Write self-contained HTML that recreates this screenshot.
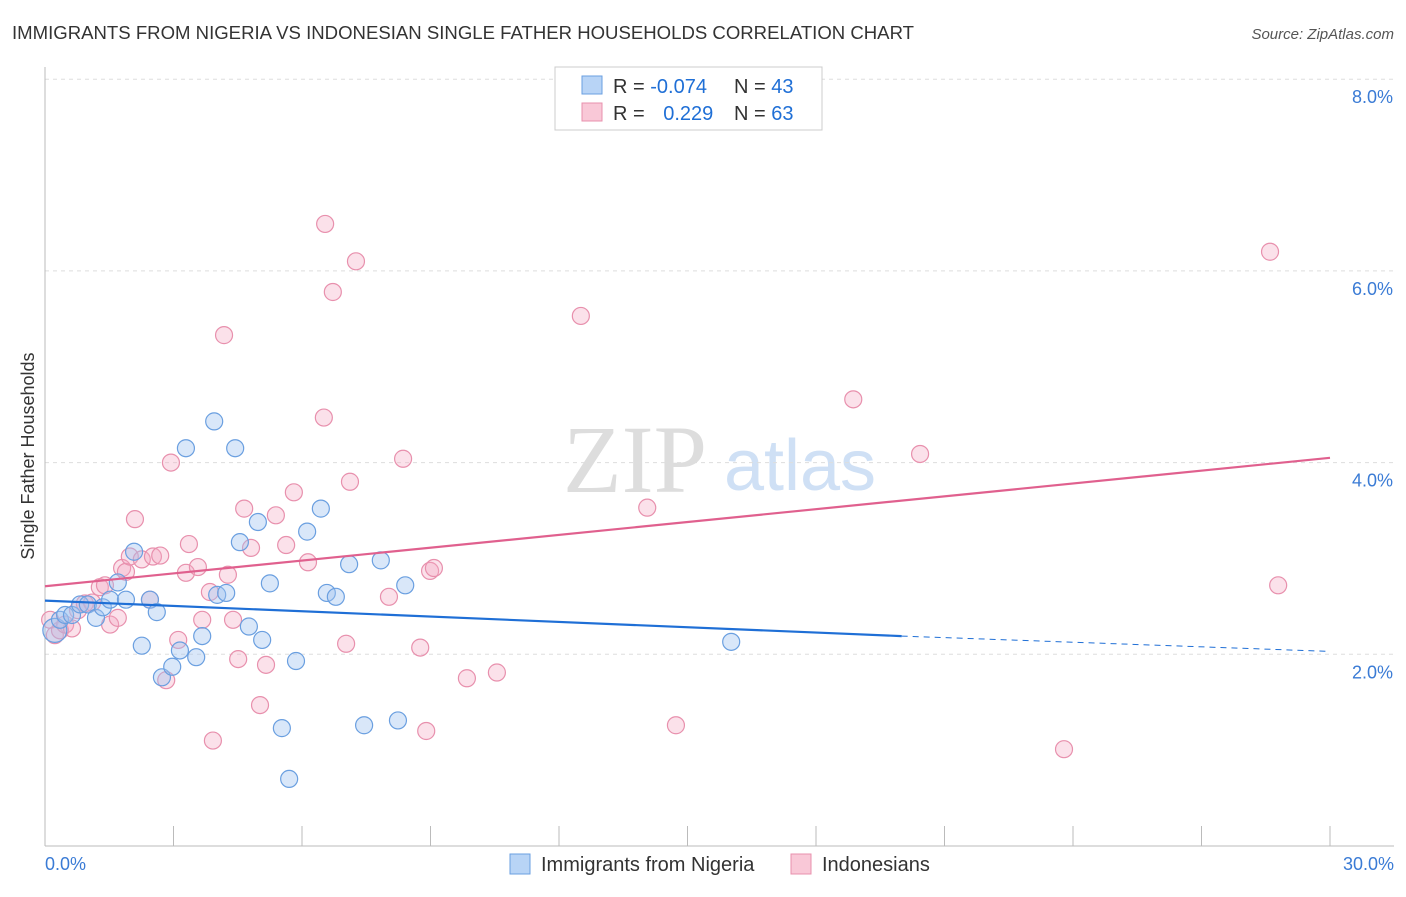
<!DOCTYPE html>
<html><head><meta charset="utf-8"><style>
body{margin:0;background:#fff;font-family:"Liberation Sans",sans-serif;}
</style></head><body>
<svg width="1406" height="892" id="chart" font-family="Liberation Sans, sans-serif">
<text x="12" y="39" font-size="18" fill="#333" textLength="902" lengthAdjust="spacingAndGlyphs">IMMIGRANTS FROM NIGERIA VS INDONESIAN SINGLE FATHER HOUSEHOLDS CORRELATION CHART</text>
<text x="1394" y="39" font-size="15" fill="#555" font-style="italic" text-anchor="end">Source: ZipAtlas.com</text>
<text x="635" y="492" font-size="96" fill="#ddd" font-family="Liberation Serif, serif" text-anchor="middle">ZIP</text>
<text x="800" y="490" font-size="72" fill="#cfe0f5" text-anchor="middle">atlas</text>
<text x="34" y="456" font-size="18" fill="#333" text-anchor="middle" transform="rotate(-90 34 456)">Single Father Households</text>
<g id="grid"></g><g id="axes"></g><g id="pts"></g><g id="lines"></g>
<g>
<rect x="555" y="67" width="267" height="63" fill="#fff" stroke="#ccc"/>
<rect x="582" y="76" width="20" height="18" fill="#b8d4f6" stroke="#6a9fe0"/>
<rect x="582" y="103" width="20" height="18" fill="#f9c8d7" stroke="#e890ad"/>
<text x="613" y="93" font-size="20" fill="#333">R = <tspan fill="#1f6fd6">-0.074</tspan></text>
<text x="734" y="93" font-size="20" fill="#333">N = <tspan fill="#1f6fd6">43</tspan></text>
<text x="613" y="120" font-size="20" fill="#333">R = <tspan fill="#1f6fd6" dx="13">0.229</tspan></text>
<text x="734" y="120" font-size="20" fill="#333">N = <tspan fill="#1f6fd6">63</tspan></text>
</g>
<g>
<rect x="510" y="854" width="20" height="20" fill="#b8d4f6" stroke="#6a9fe0"/>
<text x="541" y="871" font-size="20" fill="#333">Immigrants from Nigeria</text>
<rect x="791" y="854" width="20" height="20" fill="#f9c8d7" stroke="#e890ad"/>
<text x="822" y="871" font-size="20" fill="#333">Indonesians</text>
</g>
</svg>
<script>
const blueX=[0.23,0.35,0.47,0.63,0.82,1.00,1.19,1.35,1.52,1.70,1.89,2.08,2.26,2.45,2.61,2.73,2.97,3.15,3.29,3.53,3.67,3.95,4.02,4.23,4.44,4.55,4.76,4.97,5.07,5.25,5.53,5.70,5.86,6.12,6.44,6.58,6.79,7.10,7.45,7.84,8.24,8.41,16.02];
const blueY=[2.25,2.36,2.41,2.41,2.52,2.52,2.38,2.49,2.57,2.75,2.57,3.07,2.09,2.57,2.44,1.76,1.87,2.04,4.15,1.97,2.19,4.43,2.62,2.64,4.15,3.17,2.29,3.38,2.15,2.74,1.23,0.70,1.93,3.28,3.52,2.64,2.60,2.94,1.26,2.98,1.31,2.72,2.13];
const pinkX=[0.12,0.23,0.35,0.47,0.63,0.77,0.93,1.10,1.28,1.40,1.52,1.70,1.80,1.89,1.98,2.10,2.26,2.45,2.52,2.69,2.83,2.94,3.11,3.29,3.36,3.57,3.67,3.85,3.92,4.18,4.27,4.39,4.51,4.65,4.81,5.02,5.16,5.39,5.63,5.81,6.14,6.51,6.54,6.72,7.03,7.12,7.26,8.03,8.36,8.76,8.90,8.99,9.08,9.85,10.55,12.51,14.06,14.73,18.87,20.43,23.79,28.60,28.79];
const pinkY=[2.36,2.20,2.25,2.31,2.27,2.46,2.53,2.54,2.70,2.72,2.31,2.38,2.90,2.86,3.02,3.41,2.99,2.57,3.02,3.03,1.73,4.00,2.15,2.85,3.15,2.91,2.36,2.65,1.10,5.33,2.83,2.36,1.95,3.52,3.11,1.47,1.89,3.45,3.14,3.69,2.96,4.47,6.49,5.78,2.11,3.80,6.10,2.60,4.04,2.07,1.20,2.87,2.90,1.75,1.81,5.53,3.53,1.26,4.66,4.09,1.01,6.20,2.72];
const yTicks=[2,4,6,8];
const yTickLabels=["2.0%","4.0%","6.0%","8.0%"];
const xTickLabels=["0.0%","30.0%"];
const blueTrend=[2.56,2.19];
const blueTrendEnd=[20,30,2.03];
const pinkTrend=[2.71,4.05];
const NS="http://www.w3.org/2000/svg";
const sx=v=>45+v*(1285/30), sy=v=>846-v*95.85;
function mk(tag,attrs,parent){const e=document.createElementNS(NS,tag);for(const k in attrs)e.setAttribute(k,attrs[k]);document.getElementById(parent).appendChild(e);return e;}
yTicks.forEach((t,i)=>{
 const g=mk('line',{x1:45,x2:1394,y1:sy(t),y2:sy(t),stroke:'#ddd','stroke-dasharray':'4,4'},'grid');
 
 
 const l=mk('text',{x:1393,y:sy(t)+24,'font-size':18,fill:'#3a7bd5','text-anchor':'end'},'axes');
 l.textContent=yTickLabels[i];
 
 
});
const ax=mk('line',{x1:45,x2:45,y1:67,y2:846,stroke:'#bbb'},'axes');


const bx=mk('line',{x1:45,x2:1394,y1:846,y2:846,stroke:'#bbb'},'axes');


for(let i=0;i<=10;i++){
 const t=mk('line',{x1:sx(i*3),x2:sx(i*3),y1:826,y2:846,stroke:'#bbb'},'axes');
 
 
}
[[0,'start',45],[30,'end',1394]].forEach((d,i)=>{
 const t=mk('text',{x:d[2],y:870,'font-size':18,fill:'#3a7bd5','text-anchor':d[1]},'axes');
 t.textContent=xTickLabels[i];
 
 
});
function pts(X,Y,fill,stroke,name){X.forEach((x,i)=>{
 const c=mk('circle',{cx:sx(x),cy:sy(Y[i]),r:(i==0&&name=='point-nigeria')?12:8.5,fill:fill,stroke:stroke,'stroke-width':1.2},'pts');
 
 
});}
pts(pinkX,pinkY,'rgba(244,170,195,0.35)','#e890ad','point-indonesians');
pts(blueX,blueY,'rgba(160,196,240,0.4)','#6a9fe0','point-nigeria');
const l1=mk('line',{x1:sx(0),y1:sy(blueTrend[0]),x2:sx(blueTrendEnd[0]),y2:sy(blueTrend[1]),stroke:'#1f6fd6','stroke-width':2.2},'lines');


const l2=mk('line',{x1:sx(blueTrendEnd[0]),y1:sy(blueTrend[1]),x2:sx(blueTrendEnd[1]),y2:sy(blueTrendEnd[2]),stroke:'#1f6fd6','stroke-width':1,'stroke-dasharray':'6,5'},'lines');


const l3=mk('line',{x1:sx(0),y1:sy(pinkTrend[0]),x2:sx(30),y2:sy(pinkTrend[1]),stroke:'#e0608e','stroke-width':2.2},'lines');


</script>
</body></html>
